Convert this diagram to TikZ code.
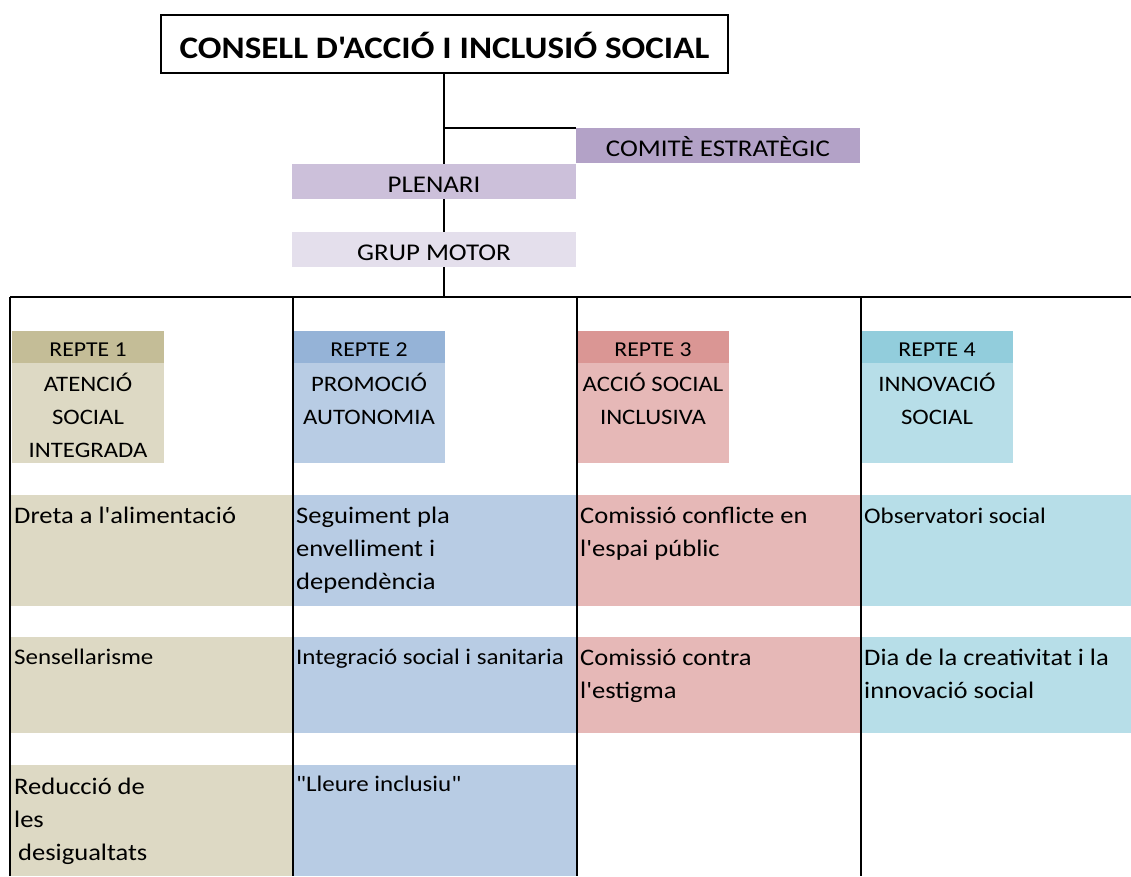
\documentclass[tikz,border=0pt]{standalone}
\usepackage{fontspec}
\setmainfont{Carlito}[FakeStretch=1.12,Ligatures=TeXOff]
\usetikzlibrary{positioning,backgrounds}

\definecolor{comitecol}{HTML}{B3A2C7}
\definecolor{plenaricol}{HTML}{CCC0DA}
\definecolor{motorcol}{HTML}{E4DFEC}
\definecolor{headA}{HTML}{C4BD97}
\definecolor{bodyA}{HTML}{DDD9C4}
\definecolor{headB}{HTML}{95B3D7}
\definecolor{bodyB}{HTML}{B8CCE4}
\definecolor{headC}{HTML}{DA9694}
\definecolor{bodyC}{HTML}{E6B8B7}
\definecolor{headD}{HTML}{92CDDC}
\definecolor{bodyD}{HTML}{B7DEE8}

\newcommand\cellstrut{\rule{0pt}{24pt}}

\tikzset{
  band/.style={anchor=north west,inner sep=0pt,outer sep=0pt,
    minimum width=284pt,minimum height=35pt,text height=22pt,text depth=0.5pt,
    font=\fontsize{24}{28}\selectfont},
  head/.style={anchor=north west,inner sep=0pt,outer sep=0pt,
    minimum width=152pt,minimum height=32pt,text height=20.5pt,text depth=0.9pt,
    font=\fontsize{21.2}{25}\selectfont},
  body/.style={anchor=north west,inner sep=0pt,outer sep=0pt,
    minimum width=152pt,minimum height=100pt},
  cell/.style={anchor=north west,inner sep=0pt,outer sep=0pt,minimum width=#1},
  celltxt/.style={inner sep=0pt,align=left,font=\fontsize{23.7}{33}\selectfont},
  smalltxt/.style={celltxt,font=\fontsize{22.3}{33}\selectfont},
  reptetxt/.style={inner sep=0pt,align=center,font=\fontsize{22.1}{33}\selectfont},
  frame/.style={line width=2.5pt}
}

\begin{document}
\begin{tikzpicture}[x=1pt,y=-1pt]
\useasboundingbox (0,0) rectangle (1131,876);

\node[draw,line width=2pt,fill=white,minimum width=567pt,minimum height=58pt,
  anchor=north west,inner sep=0pt,text height=30pt,text depth=1pt,
  font=\fontsize{31.3}{36}\selectfont\bfseries]
  (consell) at (160,14) {CONSELL D'ACCIÓ I INCLUSIÓ SOCIAL};
\node[band,fill=comitecol] (comite) at (576,128) {COMITÈ ESTRATÈGIC};
\node[band,fill=plenaricol] (plenari) at (292,164) {PLENARI};
\node[band,fill=motorcol] (motor) at (292,232) {GRUP MOTOR};

\coordinate (bar) at (444,297);
\coordinate (barL) at (10,297);
\coordinate (barR) at (1131,297);

\begin{scope}[on background layer]
  \draw[frame] (consell.south -| bar) -- (bar);
  \draw[frame] (comite.north west -| bar) -- (comite.north west);
\end{scope}

\node[head,fill=headA] (r1) at (12,331) {REPTE 1};
\node[body,fill=bodyA,below=0pt of r1] (r1b) {};
\node[head,fill=headB] (r2) at (293,331) {REPTE 2};
\node[body,fill=bodyB,below=0pt of r2] (r2b) {};
\node[head,fill=headC] (r3) at (577,331) {REPTE 3};
\node[body,fill=bodyC,below=0pt of r3] (r3b) {};
\node[head,fill=headD] (r4) at (861,331) {REPTE 4};
\node[body,fill=bodyD,below=0pt of r4] (r4b) {};

\node[reptetxt,below=4pt of r1b.north] (r1t) {\cellstrut ATENCIÓ\\SOCIAL\\INTEGRADA};
\node[reptetxt,below=4pt of r2b.north] (r2t) {\cellstrut PROMOCIÓ\\AUTONOMIA};
\node[reptetxt,below=4pt of r3b.north] (r3t) {\cellstrut ACCIÓ SOCIAL\\INCLUSIVA};
\node[reptetxt,below=4pt of r4b.north] (r4t) {\cellstrut INNOVACIÓ\\SOCIAL};

\node[cell=281pt,minimum height=111pt,fill=bodyA] (c11) at (11,495) {};
\node[cell=283pt,minimum height=111pt,fill=bodyB] (c12) at (293,495) {};
\node[cell=283pt,minimum height=111pt,fill=bodyC] (c13) at (577,495) {};
\node[cell=270pt,minimum height=111pt,fill=bodyD] (c14) at (861,495) {};
\node[cell=281pt,minimum height=96pt,fill=bodyA] (c21) at (11,637) {};
\node[cell=283pt,minimum height=96pt,fill=bodyB] (c22) at (293,637) {};
\node[cell=283pt,minimum height=96pt,fill=bodyC] (c23) at (577,637) {};
\node[cell=270pt,minimum height=96pt,fill=bodyD] (c24) at (861,637) {};
\node[cell=281pt,minimum height=111pt,fill=bodyA] (c31) at (11,765) {};
\node[cell=283pt,minimum height=111pt,fill=bodyB] (c32) at (293,765) {};

\node[celltxt,below right=4pt and 3pt of c11.north west] (t11) {\cellstrut Dreta a l'alimentació};
\node[celltxt,below right=4pt and 3pt of c12.north west] (t12) {\cellstrut Seguiment pla\\envelliment i\\dependència};
\node[celltxt,below right=4pt and 3pt of c13.north west] (t13) {\cellstrut Comissió conflicte en\\l'espai públic};
\node[smalltxt,below right=4pt and 3pt of c14.north west] (t14) {\cellstrut Observatori social};
\node[smalltxt,below right=3pt and 3pt of c21.north west] (t21) {\cellstrut Sensellarisme};
\node[smalltxt,below right=3pt and 3pt of c22.north west] (t22) {\cellstrut Integració social i sanitaria};
\node[celltxt,below right=4pt and 3pt of c23.north west] (t23) {\cellstrut Comissió contra\\l'estigma};
\node[celltxt,below right=4pt and 3pt of c24.north west] (t24) {\cellstrut Dia de la creativitat i la\\innovació social};
\node[celltxt,below right=5pt and 3pt of c31.north west] (t31) {\cellstrut Reducció de\\les\\\hspace{4pt}desigualtats};
\node[smalltxt,below right=2pt and 3pt of c32.north west] (t32) {\cellstrut "Lleure inclusiu"};

\draw[frame] (barL) -- (barR);
\draw[frame] (barL) -- (barL |- 0,876);
\draw[frame] (r2.north west |- bar) -- (r2.north west |- 0,876);
\draw[frame] (r3.north west |- bar) -- (r3.north west |- 0,876);
\draw[frame] (r4.north west |- bar) -- (r4.north west |- 0,876);
\end{tikzpicture}
\end{document}
